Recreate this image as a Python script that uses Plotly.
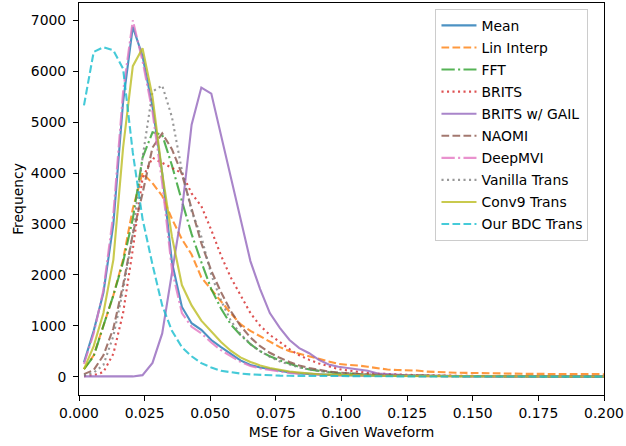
import plotly.graph_objects as go

# bin centers (MSE)
mse_bins = [0.0019, 0.0056, 0.0093, 0.0131, 0.0168, 0.0205, 0.0242, 0.0280, 0.0317, 0.0354,
            0.0392, 0.0429, 0.0466, 0.0504, 0.0541, 0.0578, 0.0615, 0.0653, 0.0690, 0.0727,
            0.0765, 0.0802, 0.0839, 0.0877, 0.0914, 0.0951, 0.0988, 0.1026, 0.1063, 0.1100,
            0.1138, 0.1175, 0.1212, 0.1250, 0.1287, 0.1324, 0.1361, 0.1399, 0.1436, 0.1473,
            0.1511, 0.1548, 0.1585, 0.1622, 0.1660, 0.1697, 0.1734, 0.1772, 0.1809, 0.1846,
            0.1883, 0.1921, 0.1958, 0.1995, 0.2033]

mean_vals = [280, 900, 1650, 3000, 5400, 6870, 6300, 5300, 4000, 2250,
             1370, 1050, 920, 720, 580, 450, 320, 230, 180, 150,
             110, 85, 65, 50, 40, 35, 30, 25, 22, 20,
             18, 16, 14, 12, 11, 10, 9, 8, 8, 7,
             7, 6, 6, 5, 5, 5, 4, 4, 4, 3,
             3, 3, 3, 2, 2]
lin_interp_vals = [150, 420, 1000, 1600, 2300, 3300, 4000, 3800, 3550, 3100,
                   2700, 2400, 1950, 1700, 1480, 1250, 1030, 900, 790, 690,
                   580, 500, 450, 400, 340, 300, 250, 230, 220, 195,
                   160, 140, 130, 125, 120, 100, 90, 80, 78, 75,
                   70, 66, 62, 60, 58, 56, 55, 54, 53, 52,
                   51, 50, 50, 49, 48]
fft_vals = [150, 400, 1000, 1600, 2250, 3100, 4300, 4800, 4750, 4150,
            3450, 2800, 2250, 1720, 1340, 1030, 820, 640, 500, 400,
            320, 250, 190, 140, 110, 90, 70, 58, 48, 40,
            34, 28, 24, 20, 17, 15, 13, 11, 10, 9,
            8, 7, 6, 6, 5, 5, 5, 4, 4, 4,
            3, 3, 3, 3, 2]
brits_vals = [10, 30, 90, 450, 1250, 2500, 3900, 4300, 4200, 4100,
              4000, 3600, 3350, 2880, 2380, 1950, 1600, 1250, 1000, 820,
              680, 540, 420, 330, 260, 200, 150, 120, 95, 75,
              60, 50, 42, 35, 30, 26, 22, 19, 16, 14,
              12, 11, 10, 9, 8, 7, 6, 6, 5, 5,
              4, 4, 4, 3, 3]
brits_gail_vals = [5, 5, 5, 5, 5, 5, 30, 270, 850, 2050,
                   3250, 4950, 5680, 5560, 4750, 3900, 3100, 2270, 1720, 1250,
                   960, 720, 560, 460, 330, 240, 195, 170, 150, 115,
                   60, 45, 35, 28, 22, 18, 15, 12, 10, 9,
                   8, 7, 6, 5, 5, 4, 4, 3, 3, 3,
                   2, 2, 2, 2, 2]
naomi_vals = [50, 130, 420, 950, 1800, 2800, 3600, 4500, 4780, 4470,
              3980, 3280, 2620, 2080, 1660, 1290, 1000, 770, 600, 470,
              370, 290, 220, 170, 130, 100, 80, 65, 52, 43,
              36, 30, 25, 21, 18, 15, 13, 11, 10, 9,
              8, 7, 6, 6, 5, 5, 4, 4, 4, 3,
              3, 3, 3, 2, 2]
deepmvi_vals = [250, 850, 1700, 3200, 5600, 7000, 6200, 5200, 3800, 2100,
                1250, 980, 850, 670, 520, 400, 290, 210, 160, 130,
                100, 75, 60, 45, 35, 30, 25, 22, 20, 18,
                16, 14, 12, 11, 10, 9, 8, 7, 7, 6,
                6, 5, 5, 5, 4, 4, 4, 3, 3, 3,
                3, 2, 2, 2, 2]
vanilla_vals = [30, 80, 230, 800, 1700, 2800, 4300, 5600, 5720, 5100,
                4050, 3250, 2750, 2000, 1500, 1100, 840, 640, 500, 390,
                300, 240, 180, 140, 110, 90, 72, 60, 50, 42,
                36, 30, 26, 22, 19, 16, 14, 12, 11, 10,
                9, 8, 7, 7, 6, 6, 5, 5, 5, 4,
                4, 4, 3, 3, 3]
conv9_vals = [150, 600, 1250, 2300, 4500, 6100, 6450, 5500, 4000, 2750,
              1800, 1400, 1100, 880, 680, 510, 380, 290, 220, 170,
              130, 100, 80, 60, 48, 40, 33, 28, 24, 20,
              18, 16, 14, 12, 11, 10, 9, 8, 7, 7,
              6, 6, 5, 5, 5, 4, 4, 4, 3, 3,
              3, 3, 3, 2, 2]
bdc_vals = [5330, 6380, 6470, 6410, 6050, 4400, 3100, 2200, 1400, 900,
            580, 400, 265, 180, 115, 85, 62, 45, 33, 25,
            20, 17, 15, 13, 11, 10, 9, 8, 7, 6,
            6, 5, 5, 4, 4, 4, 3, 3, 3, 3,
            2, 2, 2, 2, 2, 2, 1, 1, 1, 1,
            1, 1, 1, 1, 1]

x_ticks = [0.0, 0.025, 0.05, 0.075, 0.1, 0.125, 0.15, 0.175, 0.2]
y_ticks = [0, 1000, 2000, 3000, 4000, 5000, 6000, 7000]

DASH = "7.7px,3.3px"
DASHDOT = "13.3px,3.3px,2.1px,3.3px"
DOT = "2.1px,3.4px"

series = [
    ("Mean", mean_vals, "#1f77b4", "solid"),
    ("Lin Interp", lin_interp_vals, "#ff7f0e", DASH),
    ("FFT", fft_vals, "#2ca02c", DASHDOT),
    ("BRITS", brits_vals, "#d62728", DOT),
    ("BRITS w/ GAIL", brits_gail_vals, "#9467bd", "solid"),
    ("NAOMI", naomi_vals, "#8c564b", DASH),
    ("DeepMVI", deepmvi_vals, "#e377c2", DASHDOT),
    ("Vanilla Trans", vanilla_vals, "#7f7f7f", DOT),
    ("Conv9 Trans", conv9_vals, "#bcbd22", "solid"),
    ("Our BDC Trans", bdc_vals, "#17becf", DASH),
]

fig = go.Figure()
for name, vals, color, dash in series:
    fig.add_trace(go.Scatter(
        x=mse_bins, y=vals, mode="lines", name=name, opacity=0.8,
        legendgroup=name,
        line=dict(color=color, width=2.1, dash=dash),
    ))

FONT = "DejaVu Sans"
FS = 13.9
fig.update_layout(
    width=626, height=446,
    margin=dict(l=79, r=22, t=3, b=51),
    paper_bgcolor="white", plot_bgcolor="white",
    font=dict(family=FONT, size=FS, color="black"),
    showlegend=True,
    legend=dict(
        x=0.679, y=0.985, xanchor="left", yanchor="top",
        bgcolor="rgba(255,255,255,0.8)", bordercolor="#cccccc", borderwidth=1,
        font=dict(family=FONT, size=FS, color="black"),
        tracegroupgap=1, itemwidth=35,
    ),
    xaxis=dict(
        range=[0, 0.2], tickvals=x_ticks, tickformat=".3f",
        showgrid=False, zeroline=False,
        showline=True, mirror=True, linecolor="black", linewidth=1,
        ticks="outside", ticklen=5, tickwidth=1, tickcolor="black",
        tickfont=dict(family=FONT, size=FS, color="black"),
        title=dict(text="MSE for a Given Waveform", standoff=7,
                   font=dict(family=FONT, size=FS, color="black")),
    ),
    yaxis=dict(
        range=[-360, 7340], tickvals=y_ticks,
        showgrid=False, zeroline=False,
        showline=True, mirror=True, linecolor="black", linewidth=1,
        ticks="outside", ticklen=5, tickwidth=1, tickcolor="black",
        ticklabelstandoff=4,
        tickfont=dict(family=FONT, size=FS, color="black"),
        title=dict(text="Frequency", standoff=3,
                   font=dict(family=FONT, size=FS, color="black")),
    ),
)

fig.write_html("out.html")
